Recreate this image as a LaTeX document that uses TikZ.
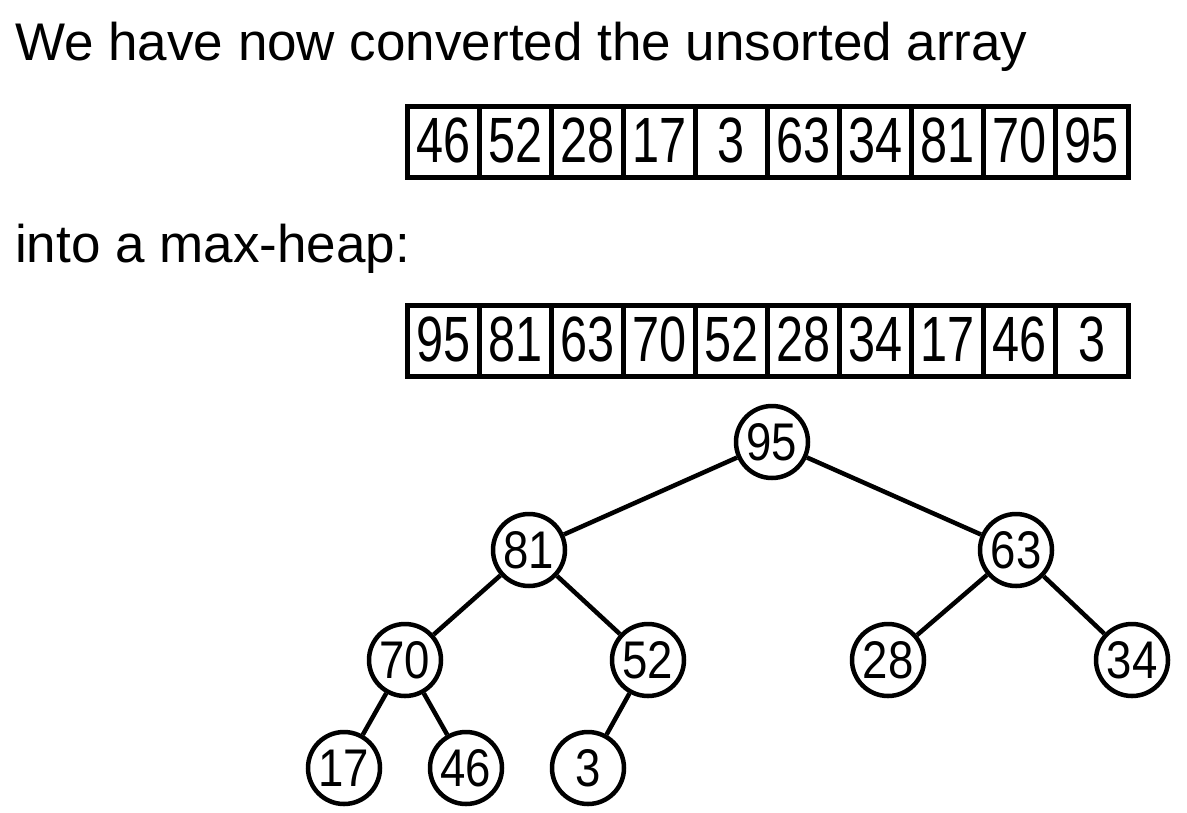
\documentclass[tikz,border=0pt]{standalone}
\usepackage{fontspec}
\setmainfont{Liberation Sans}
\newfontfamily\digitfont[FakeStretch=0.76]{Liberation Sans}
\newfontfamily\keyfont[FakeStretch=0.86]{Liberation Sans}

\begin{document}
\begin{tikzpicture}[x=1pt, y=-1pt,
    cell/.style={draw, line width=5pt, minimum width=72.1pt, minimum height=71pt, inner sep=0pt, font=\digitfont\fontsize{64}{64}\selectfont}, % array cells
    key/.style={draw, circle, line width=4.5pt, minimum size=72pt, inner sep=0pt, fill=white, font=\keyfont\fontsize{53}{53}\selectfont}, % heap nodes
    link/.style={line width=4.5pt}, % tree links
    caption/.style={anchor=base west, inner sep=0pt, font=\fontsize{53}{60}\selectfont} % text lines
]

    \useasboundingbox (0,0) rectangle (1187,812);

    % Text lines
    \node[caption] (top) at (15,60) {We have now converted the unsorted array};
    \node[caption] (mid) at (15,262) {into a max-heap:};

    % Unsorted array
    \foreach \v [count=\i from 0] in {46,52,28,17,3,63,34,81,70,95}
        \node[cell] (a\i) at (443.05+72.1*\i, 141.5) {\raisebox{3pt}{\v}};

    % Heap array
    \foreach \v [count=\i from 0] in {95,81,63,70,52,28,34,17,46,3}
        \node[cell] (h\i) at (443.05+72.1*\i, 340.5) {\raisebox{3pt}{\v}};

    % Heap as a tree
    \node[key] (n95) at (772,442) {95};
    \node[key] (n81) at (529,550) {81};
    \node[key] (n63) at (1016,550) {63};
    \node[key] (n70) at (405,660) {70};
    \node[key] (n52) at (648,660) {52};
    \node[key] (n28) at (888,660) {28};
    \node[key] (n34) at (1132,660) {34};
    \node[key] (n17) at (344,768) {17};
    \node[key] (n46) at (466,768) {46};
    \node[key] (n3) at (588,768) {3};

    % Links (parent to child)
    \draw[link] (n95) -- (n81);
    \draw[link] (n95) -- (n63);
    \draw[link] (n81) -- (n70);
    \draw[link] (n81) -- (n52);
    \draw[link] (n63) -- (n28);
    \draw[link] (n63) -- (n34);
    \draw[link] (n70) -- (n17);
    \draw[link] (n70) -- (n46);
    \draw[link] (n52) -- (n3);

\end{tikzpicture}
\end{document}
